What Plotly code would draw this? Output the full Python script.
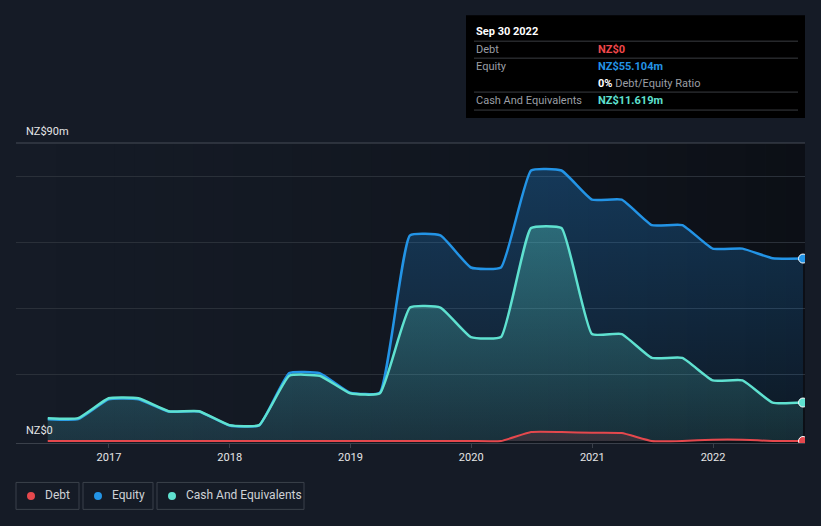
import plotly.graph_objects as go

# ---------------- data ----------------
dates = ["2016-06-30", "2016-09-30", "2016-12-31", "2017-03-31", "2017-06-30", "2017-09-30",
         "2017-12-31", "2018-03-31", "2018-06-30", "2018-09-30", "2018-12-31", "2019-03-31",
         "2019-06-30", "2019-09-30", "2019-12-31", "2020-03-31", "2020-06-30", "2020-09-30",
         "2020-12-31", "2021-03-31", "2021-06-30", "2021-09-30", "2021-12-31", "2022-03-31",
         "2022-06-30", "2022-09-30"]
equity = [6.6, 6.6, 12.6, 12.6, 8.9, 8.9, 4.7, 4.7, 20.5, 20.5, 14.6, 14.6,
          62.1, 62.1, 52.4, 52.4, 81.7, 81.7, 72.9, 72.9, 65.2, 65.2, 58.1, 58.1,
          55.2, 55.104]
cash = [6.9, 6.9, 12.9, 12.9, 9.0, 9.0, 4.8, 4.8, 19.7, 19.7, 14.4, 14.4,
        40.3, 40.3, 31.4, 31.4, 64.3, 64.3, 32.3, 32.3, 25.1, 25.1, 18.3, 18.3,
        11.6, 11.619]
debt = [0, 0, 0, 0, 0, 0, 0, 0, 0, 0, 0, 0,
        0, 0, 0, 0, 2.7, 2.7, 2.5, 2.4, 0, 0, 0.4, 0.4, 0, 0]
tick_vals = ["2017-01-01", "2018-01-01", "2019-01-01", "2020-01-01", "2021-01-01", "2022-01-01"]
tick_text = ["2017", "2018", "2019", "2020", "2021", "2022"]

BG = "#151b26"
C_DEBT = "#e5484d"
C_EQ = "#2394e6"
C_CASH = "#5fe1d0"
SMOOTH = 0.4

W, H = 821, 526
L, R, T, B = 16, 805, 143, 443.5


def px(x):
    return (x - L) / (R - L)


def py(y):
    return (B - y) / (B - T)


fig = go.Figure()

fig.add_trace(go.Scatter(
    x=dates, y=equity, mode="lines", name="Equity",
    line=dict(color=C_EQ, width=2.5, shape="spline", smoothing=SMOOTH),
    fill="tozeroy",
    fillgradient=dict(type="vertical",
                      colorscale=[[0, "rgba(33,150,243,0.06)"], [1, "rgba(33,150,243,0.28)"]]),
    hoverinfo="skip"))
fig.add_trace(go.Scatter(
    x=dates, y=cash, mode="lines", name="Cash And Equivalents",
    line=dict(color=C_CASH, width=2.5, shape="spline", smoothing=SMOOTH),
    fill="tozeroy",
    fillgradient=dict(type="vertical",
                      colorscale=[[0, "rgba(94,224,207,0.10)"], [1, "rgba(94,224,207,0.32)"]]),
    hoverinfo="skip"))
fig.add_trace(go.Scatter(
    x=dates, y=debt, mode="lines", name="Debt",
    line=dict(color=C_DEBT, width=2, shape="spline", smoothing=SMOOTH),
    fill="tozeroy", fillcolor="rgba(229,72,77,0.15)",
    hoverinfo="skip"))
# end markers
for series, col in [(equity, C_EQ), (cash, C_CASH), (debt, C_DEBT)]:
    fig.add_trace(go.Scatter(
        x=[dates[-1]], y=[series[-1]], mode="markers",
        marker=dict(size=9, color=col, line=dict(color="#ffffff", width=1)),
        hoverinfo="skip"))

shapes = []
# horizontal gradient background of plot area
N = 40
for i in range(N):
    f = i / (N - 1)
    op = 0.42 * (f ** 1.6)
    shapes.append(dict(type="rect", xref="paper", yref="paper",
                       x0=i / N, x1=(i + 1) / N, y0=0, y1=1,
                       fillcolor="#000000", opacity=op, line=dict(width=0), layer="below"))
# top gridline (90m)
shapes.append(dict(type="line", xref="paper", yref="paper", x0=0, x1=1, y0=1, y1=1,
                   line=dict(color="#464c56", width=1)))

# tooltip box
shapes.append(dict(type="rect", xref="paper", yref="paper",
                   x0=px(466), x1=px(805), y0=py(118), y1=py(15),
                   fillcolor="#000000", line=dict(width=0)))
for yy in [41, 58, 92, 110]:
    shapes.append(dict(type="line", xref="paper", yref="paper",
                       x0=px(474), x1=px(798), y0=py(yy), y1=py(yy),
                       line=dict(color="#3a3d42", width=1)))

annotations = []


def ann(x, y, text, color="#ffffff", size=11, xanchor="left"):
    annotations.append(dict(xref="paper", yref="paper", x=px(x), y=py(y), text=text,
                            showarrow=False, xanchor=xanchor, yanchor="middle",
                            font=dict(family="Roboto", size=size, color=color)))


ann(474, 31, "<b>Sep 30 2022</b>", "#ffffff", 11)
ann(474, 49, "Debt", "#9a9ea4", 11)
ann(596, 49, "<b>NZ$0</b>", "#f0474a", 11)
ann(474, 66, "Equity", "#9a9ea4", 11)
ann(596, 66, "<b>NZ$55.104m</b>", "#2394e6", 11)
ann(596, 83, "<b>0%</b> <span style='color:#9a9ea4'>Debt/Equity Ratio</span>", "#ffffff", 11)
ann(474, 100, "Cash And Equivalents", "#9a9ea4", 11)
ann(596, 100, "<b>NZ$11.619m</b>", "#5fe1d0", 11)

# y labels
ann(24, 131, "NZ$90m", "#e6e6e6", 11)
ann(24, 431, "NZ$0", "#e6e6e6", 11)

# legend boxes
legend_items = [("Debt", C_DEBT, 16, 79), ("Equity", C_EQ, 83, 153),
                ("Cash And Equivalents", C_CASH, 157, 304)]
for name, col, x0, x1 in legend_items:
    shapes.append(dict(type="rect", xref="paper", yref="paper",
                       x0=px(x0), x1=px(x1), y0=py(510), y1=py(483),
                       fillcolor="rgba(0,0,0,0)", line=dict(color="#3b414b", width=1)))
    shapes.append(dict(type="circle", xref="paper", yref="paper",
                       x0=px(x0 + 11), x1=px(x0 + 19), y0=py(500.5), y1=py(492.5),
                       fillcolor=col, line=dict(width=0)))
    ann(x0 + 27, 496, name, "#cfd2d6", 12)

fig.update_layout(
    width=W, height=H,
    margin=dict(l=L, r=W - R, t=T, b=H - B, pad=0),
    paper_bgcolor=BG, plot_bgcolor=BG,
    showlegend=False,
    shapes=shapes, annotations=annotations,
    xaxis=dict(range=["2016-03-26", "2022-10-06"], tickvals=tick_vals, ticktext=tick_text,
               showgrid=False, zeroline=False, showline=True, linecolor="#3a404a", linewidth=1,
               ticks="outside", ticklen=4, tickcolor="#3a404a",
               tickfont=dict(family="Roboto", size=11, color="#e6e6e6"), fixedrange=True),
    yaxis=dict(range=[-0.6, 90], tickvals=[20, 40, 60, 80], showticklabels=False,
               showgrid=True, gridcolor="#2a3039", gridwidth=1, zeroline=False,
               showline=False, fixedrange=True),
)

fig.write_html("out.html", config={"displayModeBar": False},
               post_script="document.body.style.margin='0';document.body.style.background='%s';" % BG)
